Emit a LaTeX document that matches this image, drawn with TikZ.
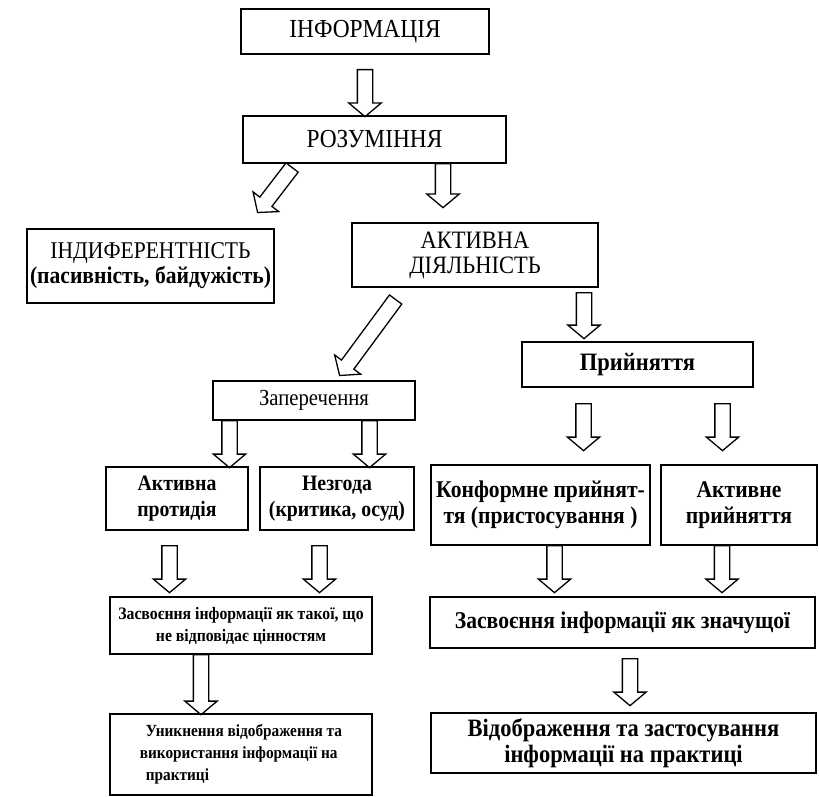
\documentclass[tikz,border=0pt]{standalone}
\usepackage{fontspec}
\setmainfont{Liberation Serif}[FakeStretch=0.9]
\usetikzlibrary{positioning}
\usetikzlibrary{shapes.arrows}
\usetikzlibrary{calc}

\tikzset{
  box/.style 2 args={draw, line width=1.4pt, align=center, inner sep=2pt,
    outer sep=0pt, minimum width=#1, minimum height=#2},
  big/.style={font=\fontsize{26}{30}\selectfont},
  mid/.style={font=\bfseries\fontsize{22}{26}\selectfont},
  midbig/.style={font=\bfseries\fontsize{24}{26}\selectfont},
  flowarrow/.style={single arrow, draw, line width=1.3pt, inner xsep=0pt,
    inner ysep=7pt, single arrow head extend=8.5pt, single arrow tip angle=100,
    anchor=tail}
}

% hollow arrow from one point to another
\newcommand{\flow}[2]{%
  \path let \p1=(#1), \p2=(#2), \n1={atan2(\y2-\y1,\x2-\x1)},
    \n2={veclen(\x2-\x1,\y2-\y1)} in
    node[flowarrow, minimum height=\n2, rotate=\n1] at (\p1) {};}

\begin{document}
\begin{tikzpicture}[x=1pt, y=-1pt]
    \useasboundingbox (0,0) rectangle (819,797);

        % Define nodes
        \node[box={248pt}{45pt}, big] at (365,31.5) (info) {ІНФОРМАЦІЯ};
        \node[box={263pt}{47pt}, big, below=62pt of info, xshift=9.5pt] (rozum) {РОЗУМІННЯ};
        \node[box={247pt}{74pt}, font=\fontsize{24}{25}\selectfont,
              below=66pt of rozum, xshift=-224pt] (indif)
              {ІНДИФЕРЕНТНІСТЬ\\\textbf{(пасивність, байдужість)}};
        \node[box={246pt}{64pt}, font=\fontsize{25}{25}\selectfont,
              below=60pt of rozum, xshift=100.5pt] (aktyv) {АКТИВНА\\ДІЯЛЬНІСТЬ};
        \node[box={231pt}{45pt}, font=\bfseries\fontsize{25}{26}\selectfont,
              below=55pt of aktyv, xshift=162.5pt] (pryin) {Прийняття};
        \node[box={202pt}{39pt}, font=\fontsize{23}{24}\selectfont,
              below=94pt of aktyv, xshift=-161pt] (zaper) {Заперечення};
        \node[box={142pt}{63pt}, mid, below=47pt of zaper, xshift=-137pt] (protyd)
              {Активна\\протидія};
        \node[box={154pt}{63pt}, mid, right=12pt of protyd] (nezg)
              {Незгода\\(критика, осуд)};
        \node[box={219pt}{80pt}, midbig, below=78pt of pryin, xshift=-97pt] (konform)
              {Конформне прийнят-\\тя (пристосування )};
        \node[box={156pt}{80pt}, midbig, right=11pt of konform] (aktpr)
              {Активне\\прийняття};
        \node[box={262pt}{57pt}, font=\bfseries\fontsize{17.5}{22}\selectfont,
              below=67pt of protyd, xshift=64pt] (zasv1)
              {Засвоєння інформації як такої, що\\не відповідає цінностям};
        \node[box={385pt}{51pt}, font=\bfseries\fontsize{24}{26}\selectfont,
              below=52pt of konform, xshift=82pt] (zasv2)
              {Засвоєння інформації як значущої};
        \node[box={262pt}{81pt}, font=\bfseries\fontsize{17}{22}\selectfont, align=left,
              below=60pt of zasv1] (unykn)
              {\hspace{6pt}Уникнення відображення та\\використання інформації на\\\hspace{6pt}практиці};
        \node[box={385pt}{60pt}, font=\bfseries\fontsize{25}{26}\selectfont,
              below=65pt of zasv2, xshift=1pt] (vidobr)
              {Відображення та застосування\\інформації на практиці};

        % Connect the nodes
        \flow{$(info.south)+(0,15)$}{info.south |- rozum.north}
        \flow{$(rozum.south)+(-82,4)$}{$(indif.north east)+(-16,-17)$}
        \flow{$(rozum.south)+(68.5,0)$}{$(aktyv.north)+(-32,-16)$}
        \flow{$(aktyv.south)+(-79,12)$}{$(zaper.north)+(26,-6)$}
        \flow{$(aktyv.south)+(109,5)$}{$(pryin.north)+(-53.5,-4)$}
        \flow{$(zaper.south)+(-84.5,0)$}{$(protyd.north)+(52.5,0)$}
        \flow{$(zaper.south)+(55.5,0)$}{$(nezg.north)+(32.5,0)$}
        \flow{$(pryin.south)+(-54,16)$}{$(konform.north)+(43,-15)$}
        \flow{$(pryin.south)+(85,16)$}{$(aktpr.north)+(-16.5,-15)$}
        \flow{$(protyd.south)+(-7.5,15)$}{$(zasv1.north)+(-71.5,-5)$}
        \flow{$(nezg.south)+(-17.5,15)$}{$(zasv1.north)+(78.5,-5)$}
        \flow{$(konform.south)+(14,0)$}{$(zasv2.north)+(-68,-5)$}
        \flow{$(aktpr.south)+(-17,0)$}{$(zasv2.north)+(99.5,-5)$}
        \flow{$(zasv1.south)+(-40,0)$}{$(unykn.north)+(-40,0)$}
        \flow{$(zasv2.south)+(7.5,10)$}{$(vidobr.north)+(6.5,-8)$}
\end{tikzpicture}
\end{document}
